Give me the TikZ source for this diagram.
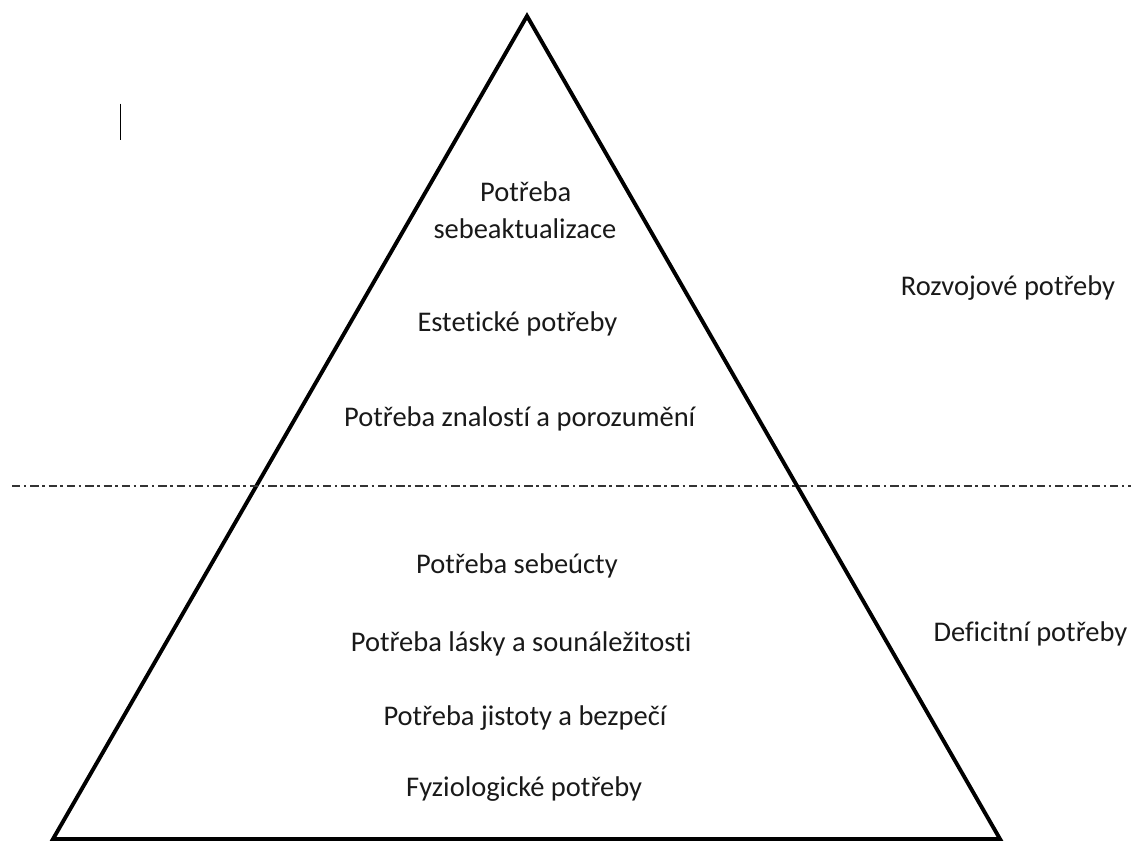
\documentclass[tikz,border=0pt]{standalone}
\usepackage{fontspec}
\setmainfont[Ligatures=NoCommon]{Carlito}
\begin{document}
\begin{tikzpicture}[x=1pt,y=-1pt,
  lbl/.style={anchor=base west,inner sep=0pt,font=\fontsize{28.5}{36.6}\selectfont,text=black!90},
  edge/.style={line width=3.9pt,line join=miter,black},
  divider/.style={line width=1.3pt,black!80,dash pattern=on 8.3pt off 3.5pt on 2.5pt off 4pt}]
\useasboundingbox (0,0) rectangle (1145,841);
\coordinate (apex) at (527,16);
\coordinate (bl) at (53,839);
\coordinate (br) at (1000,839);
\draw[edge] (apex) -- (br) -- (bl) -- cycle;
\coordinate (dl) at (12,486);
\coordinate (dr) at (1131,486);
\draw[divider] (dl) -- (dr);
\coordinate (cur1) at (120.7,103.5);
\coordinate (cur2) at (120.7,139.5);
\draw[line width=1.4pt,black] (cur1) -- (cur2);
\node[lbl] (t1a) at (480,201.7) {Potřeba};
\node[lbl] (t1b) at (433.3,238.3) {sebeaktualizace};
\node[lbl] (t2) at (417.3,331.7) {Estetické potřeby};
\node[lbl] (t3) at (344,426.7) {Potřeba znalostí a porozumění};
\node[lbl] (t4) at (416,573.3) {Potřeba sebeúcty};
\node[lbl] (t5) at (350.7,651.7) {Potřeba lásky a sounáležitosti};
\node[lbl] (t6) at (383.3,725) {Potřeba jistoty a bezpečí};
\node[lbl] (t7) at (406,796.7) {Fyziologické potřeby};
\node[lbl] (r1) at (900.7,295) {Rozvojové potřeby};
\node[lbl] (r2) at (933.3,641.7) {Deficitní potřeby};
\end{tikzpicture}
\end{document}
